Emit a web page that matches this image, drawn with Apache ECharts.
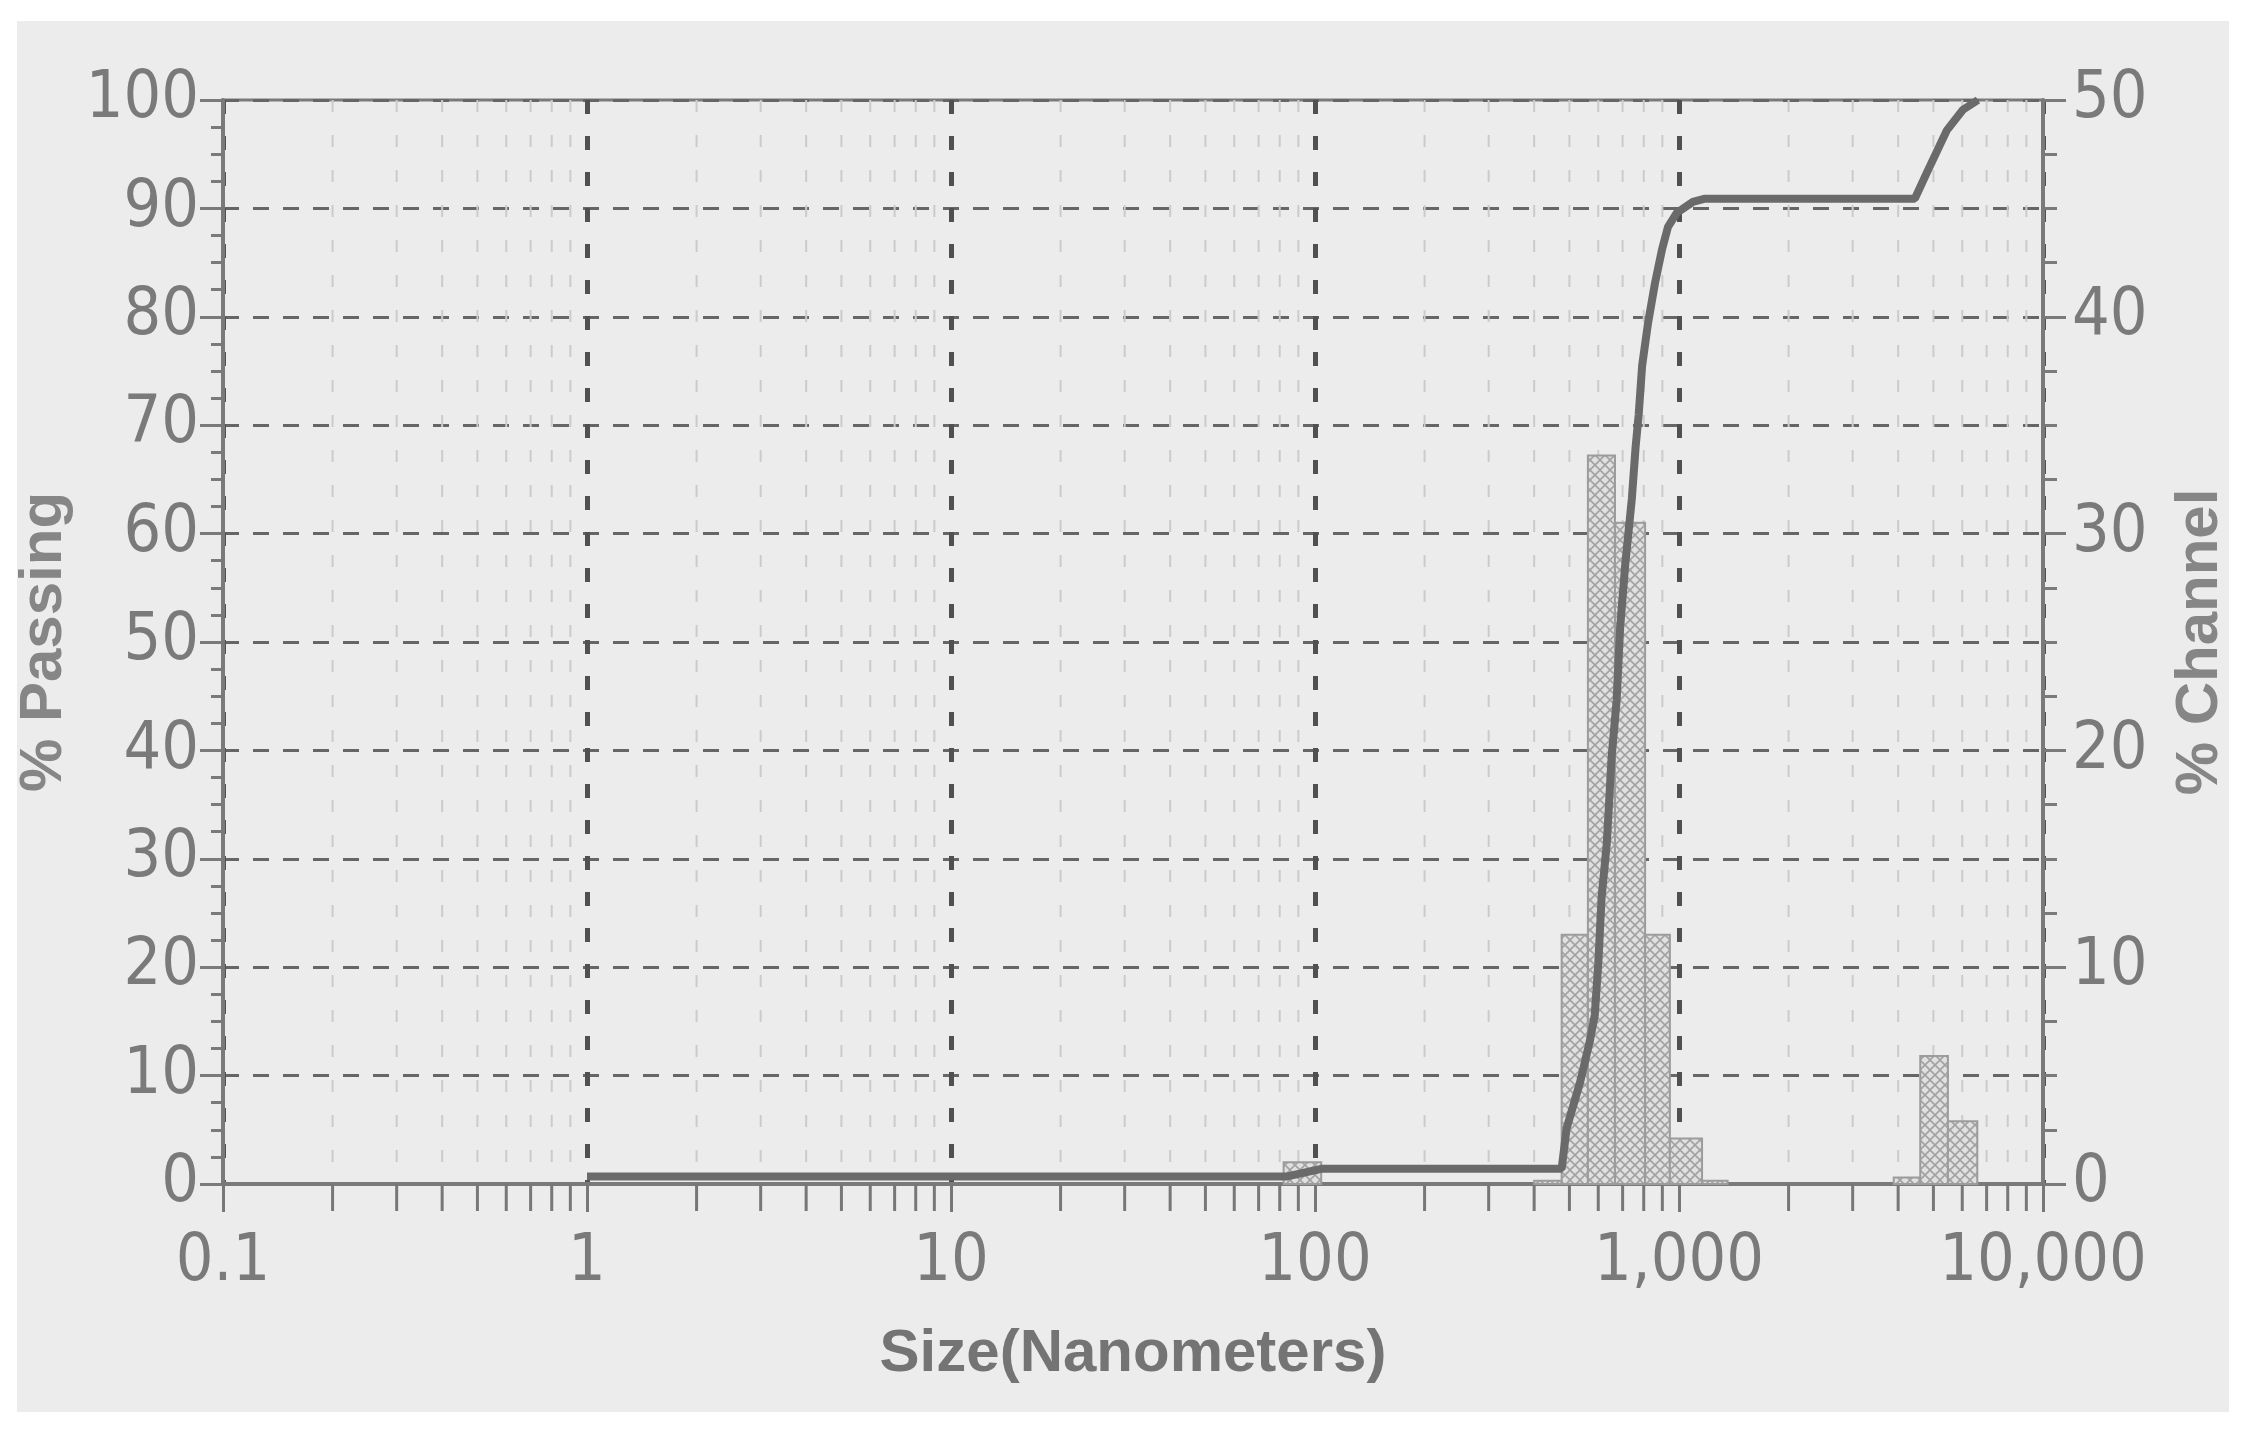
<!DOCTYPE html>
<html><head><meta charset="utf-8">
<script src="https://cdn.jsdelivr.net/npm/echarts@6/dist/echarts.min.js"></script>
<style>
html,body{margin:0;padding:0;background:#fff}
#c{width:2248px;height:1440px;background:linear-gradient(#ececec,#ececec) no-repeat 17px 21px / 2212px 1391px, #fff;}
</style>
</head><body><div id="c"></div>
<script>
// Cumulative % passing curve (size in nm, % passing)
const sizeNm  = [1, 84, 104, 476, 491, 535, 569, 587, 600, 613, 633, 653, 674, 689, 711, 742, 760, 775, 792, 822, 859, 898, 933, 987, 1092, 1179, 4446, 4797, 5442, 6026, 6627];
const passing = [0.7, 0.7, 1.4, 1.4, 5.1, 9.4, 13.2, 15.6, 20.3, 26.5, 31.3, 39.4, 44.6, 51.3, 57.0, 63.2, 68.0, 71.0, 75.5, 79.4, 83.1, 86.2, 88.3, 89.6, 90.6, 90.9, 90.9, 93.3, 97.2, 99.1, 100];
// Histogram channels (bin edges in nm, % channel)
const binLo   = [82, 400, 476, 562, 667, 807, 944, 1157, 3890, 4600, 5480];
const binHi   = [104, 476, 562, 667, 807, 944, 1157, 1360, 4600, 5480, 6600];
const channel = [1.0, 0.15, 11.5, 33.6, 30.5, 11.5, 2.1, 0.15, 0.3, 5.9, 2.9];
// Axis decorations
const decades = [0.1, 1, 10, 100, 1000];
const minorMult = [2, 3, 4, 5, 6, 7, 8, 9];

const minorVals = [];
decades.forEach(d => minorMult.forEach(m => minorVals.push([+(d * m).toPrecision(3)])));

function hatch() {
  const c = document.createElement('canvas'); c.width = c.height = 10;
  const g = c.getContext('2d');
  g.fillStyle = '#e0e0e0'; g.fillRect(0, 0, 10, 10);
  g.strokeStyle = '#a2a2a2'; g.lineWidth = 1.6;
  g.beginPath(); g.moveTo(0, 0); g.lineTo(10, 10); g.moveTo(10, 0); g.lineTo(0, 10); g.stroke();
  return c;
}
const pat = { image: hatch(), repeat: 'repeat' };

const TXT = '#7a7a7a';
const NUMFONT = "'Liberation Sans Narrow', 'DejaVu Sans Condensed', 'Liberation Sans', sans-serif";
const TITLEFONT = "'Liberation Sans', Arial, sans-serif";

const chart = echarts.init(document.getElementById('c'), null, { renderer: 'canvas' });
chart.setOption({
  backgroundColor: 'transparent',
  animation: false,
  grid: { left: 223, top: 100, width: 1820, height: 1084, show: true, borderColor: '#7a7a7a', borderWidth: 3, backgroundColor: 'transparent' },
  xAxis: {
    type: 'log', logBase: 10, min: 0.1, max: 10000,
    name: 'Size(Nanometers)', nameLocation: 'middle', nameGap: 140,
    nameTextStyle: { fontFamily: TITLEFONT, fontWeight: 'bold', fontSize: 60, color: '#747474' },
    axisLine: { show: true, lineStyle: { color: '#7a7a7a', width: 4 } },
    axisTick: { show: true, length: 28, lineStyle: { color: '#777', width: 3 } },
    axisLabel: {
      margin: 46, fontFamily: NUMFONT, fontSize: 66, color: TXT,
      formatter: v => v >= 1000 ? Number(v).toLocaleString('en-US') : String(+Number(v).toPrecision(3))
    },
    splitLine: { show: true, lineStyle: { color: '#505050', width: 5, type: [14, 22] } }
  },
  yAxis: [
    {
      type: 'value', min: 0, max: 100, interval: 10, position: 'left',
      name: '% Passing', nameLocation: 'middle', nameGap: 143, nameRotate: 90,
      nameTextStyle: { fontFamily: TITLEFONT, fontWeight: 'bold', fontSize: 60, color: '#868686' },
      axisLine: { show: true, lineStyle: { color: '#7a7a7a', width: 4 } },
      axisTick: { show: true, length: 23, lineStyle: { color: '#7a7a7a', width: 3 } },
      minorTick: { show: true, splitNumber: 4, length: 12, lineStyle: { color: '#7a7a7a', width: 3 } },
      axisLabel: { margin: 24, fontFamily: NUMFONT, fontSize: 66, color: TXT },
      splitLine: { show: true, lineStyle: { color: '#666', width: 3, type: [16, 14] } }
    },
    {
      type: 'value', min: 0, max: 50, interval: 10, position: 'right',
      name: '% Channel', nameLocation: 'middle', nameGap: 127, nameRotate: 90,
      nameTextStyle: { fontFamily: TITLEFONT, fontWeight: 'bold', fontSize: 60, color: '#868686' },
      axisLine: { show: true, lineStyle: { color: '#7a7a7a', width: 4 } },
      axisTick: { show: true, length: 23, lineStyle: { color: '#7a7a7a', width: 3 } },
      minorTick: { show: true, splitNumber: 4, length: 14, lineStyle: { color: '#7a7a7a', width: 3 } },
      axisLabel: { margin: 29, fontFamily: NUMFONT, fontSize: 66, color: TXT },
      splitLine: { show: false }
    }
  ],
  series: [
    {
      type: 'custom', name: 'minorGrid', xAxisIndex: 0, yAxisIndex: 0, silent: true, clip: false, z: 1,
      data: minorVals, encode: { x: 0 },
      renderItem: (params, api) => {
        const v = api.value(0);
        const b = api.coord([v, 0]), t = api.coord([v, 100]);
        return { type: 'group', children: [
          { type: 'line', shape: { x1: b[0], y1: t[1], x2: b[0], y2: b[1] }, style: { stroke: '#cbcbcb', lineWidth: 2, lineDash: [12, 23] } },
          { type: 'line', shape: { x1: b[0], y1: b[1], x2: b[0], y2: b[1] + 27 }, style: { stroke: '#777', lineWidth: 3 } }
        ] };
      }
    },
    {
      type: 'custom', name: '% Channel', xAxisIndex: 0, yAxisIndex: 1, z: 3,
      data: binLo.map((lo, i) => [lo, binHi[i], channel[i]]),
      encode: { x: [0, 1], y: 2 },
      renderItem: (params, api) => {
        const p0 = api.coord([api.value(0), api.value(2)]);
        const p1 = api.coord([api.value(1), 0]);
        return { type: 'rect', shape: { x: p0[0], y: p0[1], width: p1[0] - p0[0], height: p1[1] - p0[1] },
          style: { fill: pat, stroke: '#9c9c9c', lineWidth: 2 } };
      }
    },
    {
      type: 'line', name: '% Passing', xAxisIndex: 0, yAxisIndex: 0, z: 5,
      data: sizeNm.map((s, i) => [s, passing[i]]),
      showSymbol: false, symbol: 'none',
      lineStyle: { color: '#6a6a6a', width: 8 }
    }
  ]
});
</script>
</body></html>
